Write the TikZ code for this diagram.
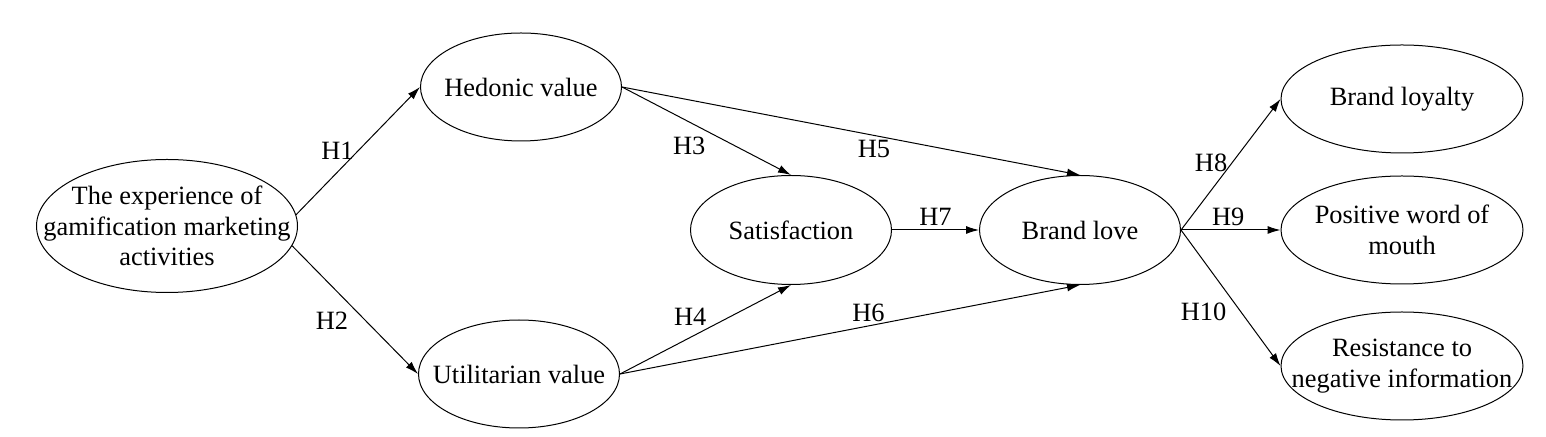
\documentclass[tikz,border=0pt]{standalone}
\usepackage{fontspec}
\setmainfont{Liberation Serif}
\usetikzlibrary{shapes.geometric, arrows.meta}
\tikzstyle{oval} = [ellipse, draw, line width=0.5pt, inner sep=0pt, 
minimum width=100.5pt, minimum height=54pt]
\tikzstyle{otext} = [align=center, inner sep=0pt]
\tikzstyle{hyp} = [inner sep=2pt]
\tikzstyle{arrow} = [line width=0.5pt,->,>={Latex[length=6.5pt,width=4pt]}]

\begin{document}
\begin{tikzpicture}[x=0.5pt, y=-0.5pt, font=\fontsize{13.2}{15.3}\selectfont]
	\useasboundingbox (0,0) rectangle (1546,437);
	\node (Exp) [oval, minimum width=130.5pt, minimum height=66.5pt, label={[otext]center:The experience of\\gamification marketing\\activities}] at (167,226) {};
	\node (Hedonic) [oval, label={[otext]center:Hedonic value}] at (521,87) {};
	\node (Utilitarian) [oval, label={[otext]center:Utilitarian value}] at (519,374) {};
	\node (Satisfaction) [oval, minimum height=54.5pt, label={[otext]center:Satisfaction}] at (791,230) {};
	\node (BrandLove) [oval, minimum height=54.5pt, label={[otext]center:Brand love}] at (1080,230) {};
	\node (Loyalty) [oval, minimum width=121pt, label={[otext]center:Brand loyalty}] at (1402,99) {};
	\node (Wom) [oval, minimum width=121pt, label={[otext]center:Positive word of\\mouth}] at (1402,230) {};
	\node (Resist) [oval, minimum width=121pt, label={[otext]center:Resistance to\\negative information}] at (1402,366) {};

	\draw [arrow] (Exp.5) -- node[hyp, anchor=east] (h1) {H1} (Hedonic.west);
	\draw [arrow] (Exp.-9) -- node[hyp, pos=0.48, anchor=north east] (h2) {H2} (Utilitarian.west);
	\draw [arrow] (Hedonic.east) -- node[hyp, pos=0.52, anchor=north east] (h3) {H3} (Satisfaction.north);
	\draw [arrow] (Utilitarian.east) -- node[hyp, pos=0.52, anchor=south east, inner sep=1pt] (h4) {H4} (Satisfaction.south);
	\draw [arrow] (Hedonic.east) -- node[hyp, pos=0.55, anchor=north] (h5) {H5} (BrandLove.north);
	\draw [arrow] (Utilitarian.east) -- node[hyp, pos=0.54, anchor=south] (h6) {H6} (BrandLove.south);
	\draw [arrow] (Satisfaction.east) -- node[hyp, anchor=south] (h7) {H7} (BrandLove.west);
	\draw [arrow] (BrandLove.east) -- node[hyp, pos=0.51, anchor=east] (h8) {H8} (Loyalty.west);
	\draw [arrow] (BrandLove.east) -- node[hyp, pos=0.475, anchor=south] (h9) {H9} (Wom.west);
	\draw [arrow] (BrandLove.east) -- node[hyp, pos=0.5, anchor=north east] (h10) {H10} (Resist.west);
\end{tikzpicture}
\end{document}
